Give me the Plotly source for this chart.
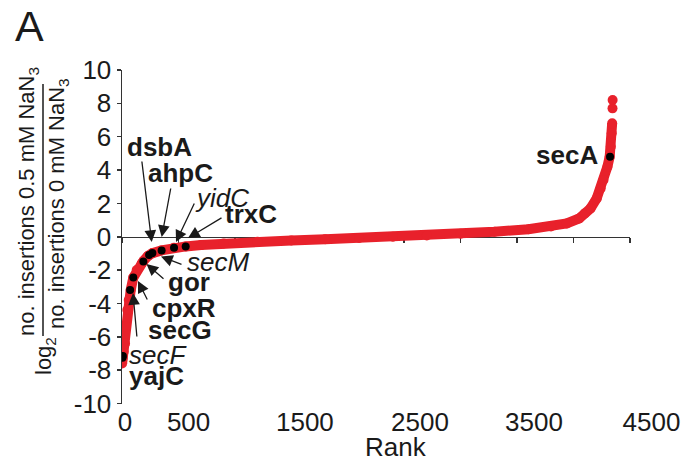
import plotly.graph_objects as go

# ---------------- data ----------------
curve_rank = [1, 5, 15, 27, 35, 47, 60, 77, 100, 130, 174, 190, 230, 270, 350, 460, 565,
              700, 900, 1200, 1500, 1800, 2100, 2400, 2700, 3000, 3300, 3600, 3800, 3940,
              4050, 4100, 4150, 4205, 4240, 4265, 4300, 4320, 4330, 4338, 4342,
              None, 4345, None, 4346]
curve_value = [-7.6, -7.3, -6.9, -6.4, -5.4, -4.4, -3.8, -3.2, -2.45, -2.0, -1.6, -1.45, -1.15, -0.98,
               -0.82, -0.66, -0.58, -0.5, -0.4, -0.3, -0.22, -0.15, -0.08, 0.0, 0.08, 0.18, 0.3,
               0.45, 0.62, 0.8, 1.1, 1.4, 1.7, 2.3, 2.9, 3.4, 4.2, 4.8, 5.4, 6.2, 6.8,
               None, 7.7, None, 8.2]

genes = ["secF", "yajC", "secG", "cpxR", "gor", "secM", "dsbA", "ahpC", "yidC", "trxC", "secA"]
gene_rank = [4, 8, 72, 100, 189, 240, 269, 351, 461, 564, 4323]
gene_value = [-7.25, -7.15, -3.2, -2.45, -1.48, -1.1, -0.98, -0.82, -0.66, -0.58, 4.8]

y_ticks = [-10, -8, -6, -4, -2, 0, 2, 4, 6, 8, 10]
y_ticktext = ["-10", "-8", "-6", "-4", "-2", "0", "2", "4", "6", "8", "10"]
x_axis_ticks = [0, 500, 1000, 1500, 2000, 2500, 3000, 3500, 4000, 4500]
x_label_text = ["0", "500", "1500", "2500", "3500", "4500"]
x_label_pos = [27, 590, 1620, 2640, 3650, 4690]

# ---------------- geometry helpers (screen pixels of the 683x468 view) ----------------
W, H = 683, 468
X0, X1 = 122, 630          # pixel extent of the rank axis (0 .. 4500)
Y_TOP, Y_BOT = 70, 403.5   # pixel extent of the value axis (10 .. -10)
XR = [0, 4500]
YR = [-10, 10]
px_per_rank = (X1 - X0) / (XR[1] - XR[0])
px_per_val = (Y_BOT - Y_TOP) / (YR[1] - YR[0])


def rx(px):
    return (px - X0) / px_per_rank


def vy(py):
    return YR[1] - (py - Y_TOP) / px_per_val


def pxp(px):
    return px / W


def pyp(py):
    return 1 - py / H


FONT = "Liberation Sans, Arial, sans-serif"
RED = "#e8212b"
INK = "#1a1a1a"

fig = go.Figure()

# invisible carrier so the bottom label axis is drawn
fig.add_trace(go.Scatter(x=[None], y=[None], xaxis="x", yaxis="y", mode="markers",
                         showlegend=False, hoverinfo="skip"))

fig.add_trace(go.Scatter(
    x=curve_rank, y=curve_value, xaxis="x2", yaxis="y",
    mode="lines+markers", connectgaps=False,
    line=dict(color=RED, width=10),
    marker=dict(color=RED, size=10),
    hoverinfo="skip", showlegend=False))

fig.add_trace(go.Scatter(
    x=gene_rank, y=gene_value, xaxis="x2", yaxis="y", text=genes,
    mode="markers", marker=dict(color="black", size=8),
    showlegend=False))

# labels: (text, style, label centre px, arrow tail px, arrow head px)
labels = [
    ("dsbA", "b", (159.5, 146.5), (141.7, 160), (151.7, 242)),
    ("ahpC", "b", (180, 172.5), (171, 187), (161.7, 237)),
    ("yidC", "i", (222, 198), (195, 202), (176, 242)),
    ("trxC", "b", (251, 214), (223, 217), (188, 238)),
    ("secM", "i", (217.5, 262), (183, 265), (161, 256.5)),
    ("gor", "b", (189, 282), (165, 280), (146.5, 264)),
    ("cpxR", "b", (183.5, 307.5), (148, 301), (138, 281)),
    ("secG", "b", (180, 330), (137, 338), (133, 293)),
    ("secF", "i", (157.5, 355), None, None),
    ("yajC", "b", (156.5, 376), None, None),
    ("secA", "b", (567, 155), None, None),
]
for txt, sty, (lx, ly), tail, head in labels:
    t = f"<b>{txt}</b>" if sty == "b" else f"<i>{txt}</i>"
    fig.add_annotation(x=rx(lx), y=vy(ly), xref="x2", yref="y", text=t,
                       xanchor="center", yanchor="middle",
                       showarrow=False, font=dict(family=FONT, size=26, color=INK))
    if tail is not None:
        fig.add_annotation(x=rx(head[0]), y=vy(head[1]), xref="x2", yref="y",
                           ax=rx(tail[0]), ay=vy(tail[1]), axref="x2", ayref="y",
                           text="", showarrow=True, arrowhead=2, arrowsize=1.8,
                           arrowwidth=1.3, arrowcolor=INK)


def paper_text(px, py, text, size, angle=0):
    fig.add_annotation(x=pxp(px), y=pyp(py), xref="paper", yref="paper", text=text,
                       xanchor="center", yanchor="middle", textangle=angle,
                       showarrow=False, font=dict(family=FONT, size=size, color=INK))


paper_text(29, 26, "A", 43)
paper_text(396, 447, "Rank", 26)
paper_text(28, 202, "no. insertions 0.5 mM NaN<sub>3</sub>", 22, -90)
paper_text(58, 204, "no. insertions 0 mM NaN<sub>3</sub>", 22, -90)
paper_text(45, 356, "log<sub>2</sub>", 22, -90)
fig.add_shape(type="line", xref="paper", yref="paper",
              x0=pxp(43), x1=pxp(43), y0=pyp(84), y1=pyp(336),
              line=dict(color=INK, width=1.5))

axis_common = dict(showgrid=False, zeroline=False, automargin=False)

fig.update_layout(
    width=W, height=H,
    margin=dict(l=0, r=0, t=0, b=0),
    paper_bgcolor="white", plot_bgcolor="white",
    font=dict(family=FONT, color=INK),
    showlegend=False,
    hovermode=False,
    xaxis2=dict(domain=[pxp(X0), pxp(X1)], range=XR, anchor="free",
                position=pyp(Y_TOP + YR[1] * px_per_val),
                showline=True, linecolor="#333333", linewidth=1.5,
                ticks="outside", ticklen=5, tickwidth=1.5, tickcolor="#333333",
                tickvals=x_axis_ticks, showticklabels=False, layer="below traces",
                **axis_common),
    xaxis=dict(domain=[pxp(X0), 1.0], range=[0, rx(W)], anchor="y",
               showline=False, ticks="", tickvals=x_label_pos, ticktext=x_label_text,
               ticklabeloverflow="allow",
               tickfont=dict(family=FONT, size=26, color=INK),
               **axis_common),
    yaxis=dict(domain=[pyp(Y_BOT), pyp(Y_TOP)], range=YR, anchor="x2",
               showline=True, linecolor="#333333", linewidth=1.5,
               ticks="outside", ticklen=4, tickwidth=1.5, tickcolor="#333333",
               tickvals=y_ticks, ticktext=y_ticktext,
               tickfont=dict(family=FONT, size=26, color=INK),
               **axis_common),
)

fig.write_html("out.html",
               config={"displayModeBar": False, "staticPlot": True},
               post_script="document.body.style.margin='0';document.body.style.overflow='hidden';")
